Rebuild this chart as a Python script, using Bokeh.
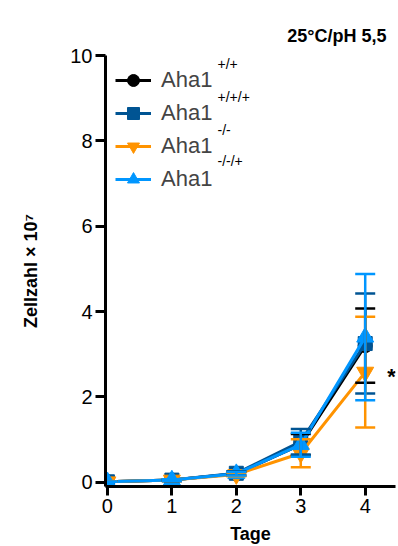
import numpy as np
from bokeh.plotting import figure
from bokeh.models import (ColumnDataSource, Whisker, TeeHead, Legend, LegendItem,
                          Label, FixedTicker, Range1d)
from bokeh.embed import file_html
from bokeh.resources import INLINE

# ---- data ----
days = [0, 1, 2, 3, 4]
x_ticks = [0, 1, 2, 3, 4]
y_ticks = [0, 2, 4, 6, 8, 10]

series_names = ["Aha1", "Aha1", "Aha1", "Aha1"]
genotype_tags = ["+/+", "+/+/+", "-/-", "-/-/+"]

black_mean = [0.01, 0.05, 0.20, 0.88, 3.20]
black_sd = [0.0, 0.02, 0.04, 0.25, 0.87]

ocean_mean = [0.01, 0.05, 0.21, 0.95, 3.25]
ocean_sd = [0.0, 0.02, 0.05, 0.30, 1.17]

orange_mean = [0.01, 0.05, 0.18, 0.68, 2.58]
orange_sd = [0.0, 0.02, 0.04, 0.33, 1.30]

aqua_mean = [0.01, 0.05, 0.20, 0.88, 3.40]
aqua_sd = [0.0, 0.02, 0.04, 0.28, 1.48]

colors = ["#000000", "#005493", "#FF9300", "#0096FF"]
markers = ["circle", "square", "inverted_triangle", "triangle"]
sizes = [14, 14, 17, 17]

FONT = "Liberation Sans"

p = figure(width=398, height=546, output_backend="svg", toolbar_location=None,
           x_range=Range1d(-0.03, 4.47), y_range=Range1d(-0.1, 10),
           min_border_left=105, min_border_right=3, min_border_top=55,
           min_border_bottom=10,
           x_axis_label="Tage", y_axis_label="Zellzahl × 10⁷")
p.outline_line_color = None
p.xgrid.visible = False
p.ygrid.visible = False
p.background_fill_color = "white"

p.title.text = "25°C/pH 5,5"
p.title.align = "right"
p.title.text_font = FONT
p.title.text_font_style = "bold"
p.title.text_font_size = "18px"
p.title.text_color = "black"
p.title.offset = 9
p.title.standoff = 20

for ax in (p.xaxis[0], p.yaxis[0]):
    ax.axis_line_width = 3
    ax.major_tick_line_width = 3
    ax.major_tick_in = 0
    ax.major_tick_out = 9
    ax.minor_tick_line_color = None
    ax.major_label_text_font = FONT
    ax.major_label_text_font_size = "20px"
    ax.major_label_text_color = "black"
    ax.major_label_standoff = 3
    ax.axis_label_text_font = FONT
    ax.axis_label_text_font_style = "bold"
    ax.axis_label_text_font_size = "18px"
    ax.axis_label_text_color = "black"
p.xaxis.ticker = FixedTicker(ticks=x_ticks)
p.yaxis.ticker = FixedTicker(ticks=y_ticks)
p.xaxis.axis_label_standoff = 8
p.yaxis.axis_label_standoff = 26
p.yaxis.major_tick_out = 10

items = []
all_means = [black_mean, ocean_mean, orange_mean, aqua_mean]
all_sds = [black_sd, ocean_sd, orange_sd, aqua_sd]
for i in range(4):
    m = np.array(all_means[i])
    s = np.array(all_sds[i])
    src = ColumnDataSource(dict(x=days, y=m, upper=m + s, lower=m - s))
    c = colors[i]
    w = Whisker(base="x", upper="upper", lower="lower", source=src,
                line_color=c, line_width=2.5, level="glyph",
                upper_head=TeeHead(size=20, line_color=c, line_width=2.5),
                lower_head=TeeHead(size=20, line_color=c, line_width=2.5))
    p.add_layout(w)
    lr = p.line("x", "y", source=src, line_color=c, line_width=3)
    sr = p.scatter("x", "y", source=src, marker=markers[i], size=sizes[i],
                   fill_color=c, line_color=c)
    items.append(LegendItem(label=series_names[i], renderers=[lr, sr]))

legend = Legend(items=items, location="top_left", margin=10, padding=1,
                border_line_color=None, background_fill_alpha=0,
                glyph_width=36, glyph_height=30, label_height=30,
                label_standoff=10, spacing=3,
                label_text_font=FONT, label_text_font_size="22px")
p.add_layout(legend)

# genotype super/subscripts next to the legend labels
tag_y = [9.81, 9.03, 8.25, 7.52]
for t, yy in zip(genotype_tags, tag_y):
    p.add_layout(Label(x=1.708, y=yy, text=t, text_font=FONT,
                       text_font_size="14px", text_align="left",
                       text_baseline="middle", text_color="black"))

p.add_layout(Label(x=4.408, y=2.48, text="*", text_font=FONT,
                   text_font_style="bold", text_font_size="22px",
                   text_align="center", text_baseline="middle", text_color="black"))

open("out.html", "w").write(file_html(p, INLINE))
